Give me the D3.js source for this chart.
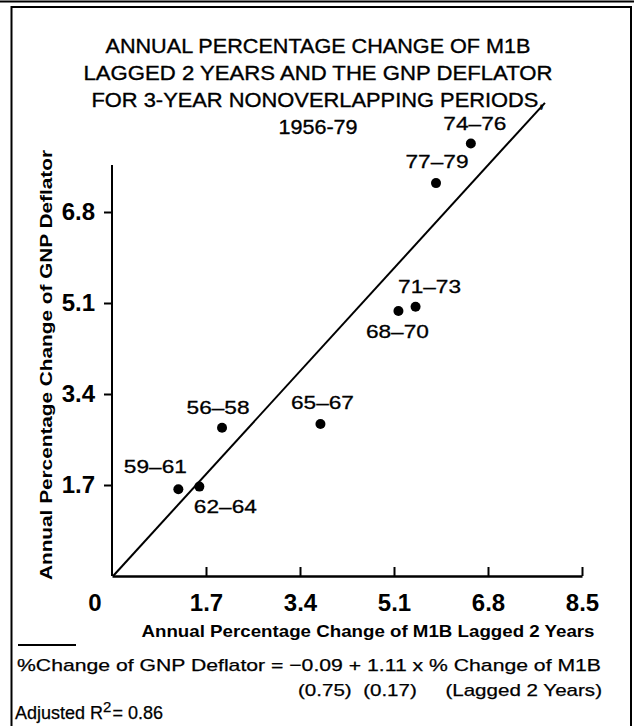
<!DOCTYPE html>
<html>
<head>
<meta charset="utf-8">
<script src="https://cdn.jsdelivr.net/npm/d3@7"></script>
<style>
  html, body { margin: 0; padding: 0; background: #fff; }
  svg { display: block; }
  text { font-family: "Liberation Sans", Arial, Helvetica, sans-serif; fill: #000; }
</style>
</head>
<body>
<svg id="chart" width="634" height="726"></svg>
<script>
// ---- data ----
const periods = ["59\u201361", "62\u201364", "56\u201358", "65\u201367", "68\u201370", "71\u201373", "77\u201379", "74\u201376"];
const m1bChange = [1.20, 1.58, 1.99, 3.77, 5.18, 5.49, 5.86, 6.49];
const gnpDeflatorChange = [1.62, 1.67, 2.77, 2.84, 4.95, 5.03, 7.34, 8.08];
const xTicks = [1.7, 3.4, 5.1, 6.8, 8.5];
const yTicks = [1.7, 3.4, 5.1, 6.8];
const fitLineX = [0.02, 7.83];
const fitLineY = [0.0, 8.84];
const titleLines = [
  "ANNUAL PERCENTAGE CHANGE OF M1B",
  "LAGGED 2 YEARS AND THE GNP DEFLATOR",
  "FOR 3-YEAR NONOVERLAPPING PERIODS,",
  "1956-79"
];
const titleWidths = [425, 469, 453, 79];
// label placement relative to point: [dx, dy]
const labelPos = {
  "59\u201361": [-23, -16],
  "62\u201364": [26, 26],
  "56\u201358": [-4, -14],
  "65\u201367": [2, -15],
  "68\u201370": [-1, 27],
  "71\u201373": [14, -14],
  "77\u201379": [1, -15],
  "74\u201376": [4, -13]
};

const svg = d3.select("#chart");

// frame
svg.append("line").attr("x1", 0).attr("x2", 634).attr("y1", 1.5).attr("y2", 1.5)
  .attr("stroke", "#000").attr("stroke-width", 2);
svg.append("path").attr("d", "M11.5,726 L11.5,7 L631,7 L631,726")
  .attr("fill", "none").attr("stroke", "#000").attr("stroke-width", 2);

// scales
const x = d3.scaleLinear().domain([0, 8.5]).range([112, 582]);
const y = d3.scaleLinear().domain([0, 6.8]).range([576, 212]);
const yTop = 165;

// title
const title = svg.append("g");
titleLines.forEach((t, i) => {
  title.append("text")
    .attr("x", 318).attr("y", 53 + i * 27)
    .attr("text-anchor", "middle")
    .attr("textLength", titleWidths[i]).attr("lengthAdjust", "spacingAndGlyphs")
    .style("font-size", "20px")
    .attr("stroke", "#000").attr("stroke-width", 0.35)
    .text(t);
});

// fit line
svg.append("line")
  .attr("x1", x(fitLineX[0])).attr("y1", y(fitLineY[0]))
  .attr("x2", x(fitLineX[1])).attr("y2", y(fitLineY[1]))
  .attr("stroke", "#000").attr("stroke-width", 2);

// x axis
const xAxis = d3.axisBottom(x).tickValues(xTicks).tickFormat(d3.format(".1f"))
  .tickSizeInner(-9).tickSizeOuter(0).tickPadding(18);
const gx = svg.append("g").attr("transform", `translate(0,${y(0)})`).call(xAxis);
gx.select(".domain").attr("stroke-width", 2.5);
gx.selectAll(".tick line").attr("stroke-width", 2);
gx.selectAll(".tick text").style("font-size", "24px").style("font-weight", "bold")
  .style("font-family", '"Liberation Sans", Arial, sans-serif');
gx.append("text").attr("x", x(0) - 17).attr("y", 18).attr("dy", "0.71em")
  .attr("text-anchor", "middle").style("font-size", "24px").style("font-weight", "bold")
  .attr("fill", "#000").text("0");

// y axis
const yAxis = d3.axisLeft(y).tickValues(yTicks).tickFormat(d3.format(".1f"))
  .tickSizeInner(8).tickSizeOuter(0).tickPadding(9);
const gy = svg.append("g").attr("transform", `translate(${x(0)},0)`).call(yAxis);
gy.select(".domain").attr("d", `M0,${y(0)}V${yTop}`).attr("stroke-width", 2);
gy.selectAll(".tick line").attr("stroke-width", 2);
gy.selectAll(".tick text").style("font-size", "24px").style("font-weight", "bold")
  .style("font-family", '"Liberation Sans", Arial, sans-serif');

// axis titles
svg.append("text").attr("x", 368).attr("y", 637).attr("text-anchor", "middle")
  .attr("textLength", 453).attr("lengthAdjust", "spacingAndGlyphs")
  .style("font-size", "17px").style("font-weight", "bold")
  .text("Annual Percentage Change of M1B Lagged 2 Years");
svg.append("text").attr("transform", "translate(52,365) rotate(-90)")
  .attr("text-anchor", "middle")
  .attr("textLength", 430).attr("lengthAdjust", "spacingAndGlyphs")
  .style("font-size", "17px").style("font-weight", "bold")
  .text("Annual Percentage Change of GNP Deflator");

// points
const pts = periods.map((p, i) => ({ p, xv: m1bChange[i], yv: gnpDeflatorChange[i] }));
svg.append("g").selectAll("circle").data(pts).join("circle")
  .attr("cx", d => x(d.xv)).attr("cy", d => y(d.yv)).attr("r", 5).attr("fill", "#000");
svg.append("g").selectAll("text").data(pts).join("text")
  .attr("x", d => x(d.xv) + labelPos[d.p][0])
  .attr("y", d => y(d.yv) + labelPos[d.p][1])
  .attr("text-anchor", "middle")
  .attr("textLength", 63).attr("lengthAdjust", "spacingAndGlyphs")
  .style("font-size", "19px")
  .attr("stroke", "#000").attr("stroke-width", 0.3)
  .text(d => d.p);

// regression note
svg.append("line").attr("x1", 18).attr("x2", 76).attr("y1", 645).attr("y2", 645)
  .attr("stroke", "#000").attr("stroke-width", 2);
svg.append("text").attr("x", 17).attr("y", 671).style("font-size", "17px")
  .attr("textLength", 584).attr("lengthAdjust", "spacingAndGlyphs")
  .attr("stroke", "#000").attr("stroke-width", 0.25)
  .text("%Change of GNP Deflator = \u22120.09 + 1.11 x % Change of M1B");
svg.append("text").attr("x", 298).attr("y", 696).style("font-size", "17px")
  .attr("textLength", 304).attr("lengthAdjust", "spacingAndGlyphs")
  .attr("stroke", "#000").attr("stroke-width", 0.25)
  .attr("xml:space", "preserve")
  .text("(0.75)  (0.17)     (Lagged 2 Years)");
const r2 = svg.append("text").attr("x", 15).attr("y", 719).style("font-size", "18px")
  .attr("stroke", "#000").attr("stroke-width", 0.25);
r2.append("tspan").text("Adjusted R");
r2.append("tspan").attr("dy", -7).style("font-size", "15px").text("2");
r2.append("tspan").attr("dy", 7).attr("dx", 1).text("= 0.86");
</script>
</body>
</html>
